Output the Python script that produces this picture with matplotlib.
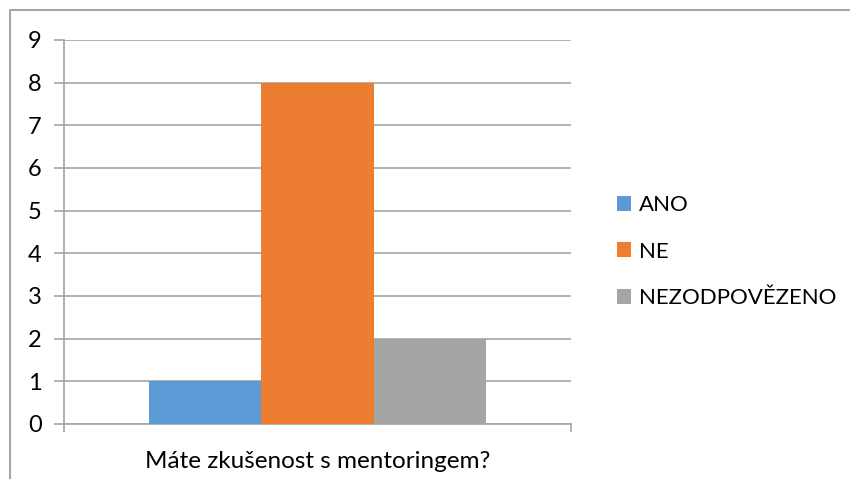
import matplotlib
matplotlib.use("Agg")
import matplotlib.pyplot as plt
from matplotlib.lines import Line2D
from matplotlib.patches import Patch

categories = ["ANO", "NE", "NEZODPOVĚZENO"]
values = [1, 8, 2]
colors = ["#5B9BD5", "#ED7D31", "#A5A5A5"]
yticks = list(range(0, 10))
xlabel = "Máte zkušenost s mentoringem?"

plt.rcParams['font.family'] = ['Lato', 'DejaVu Sans']

W, H = 850, 479
fig = plt.figure(figsize=(W/100, H/100), dpi=100)
ax = fig.add_axes([64/W, 1-424/H, (571-64)/W, (424-40)/H])

bw = 0.2222
for i, (c, v, col) in enumerate(zip(categories, values, colors)):
    ax.bar((i-1)*bw, v, width=bw, color=col, label=c, zorder=3)

ax.set_xlim(-0.5, 0.5)
ax.set_ylim(0, 9)
ax.set_yticks(yticks)
ax.set_yticklabels([str(t) for t in yticks], fontsize=17)
ax.set_xticks([-0.5, 0.5])
ax.set_xticklabels(["", ""])
ax.tick_params(axis='y', length=7, color='#A6A6A6', width=1.2, pad=9)
ax.tick_params(axis='x', length=6, color='#A6A6A6', width=1.2)
ax.yaxis.grid(True, color='#A6A6A6', linewidth=1.2, zorder=0)
for s in ['top', 'right']:
    ax.spines[s].set_visible(False)
for s in ['left', 'bottom']:
    ax.spines[s].set_color('#A6A6A6')
    ax.spines[s].set_linewidth(1.2)
ax.set_axisbelow(True)

fig.text(318/W, 1-462/H, xlabel, ha='center', va='center', fontsize=17.5)

handles = [Patch(facecolor=col, edgecolor='none') for col in colors]
leg = fig.legend(handles, categories, loc='upper left',
                 bbox_to_anchor=(608/W, 1-186/H), frameon=False,
                 fontsize=16, handlelength=0.65, handleheight=0.65,
                 handletextpad=0.35, labelspacing=1.2, borderaxespad=0)

fr = '#A6A6A6'
fig.add_artist(Line2D([9.5/W, 9.5/W, 1], [0, 1-9.5/H, 1-9.5/H],
                      transform=fig.transFigure, color=fr, linewidth=1.5))

fig.savefig("out.png", dpi=100)
